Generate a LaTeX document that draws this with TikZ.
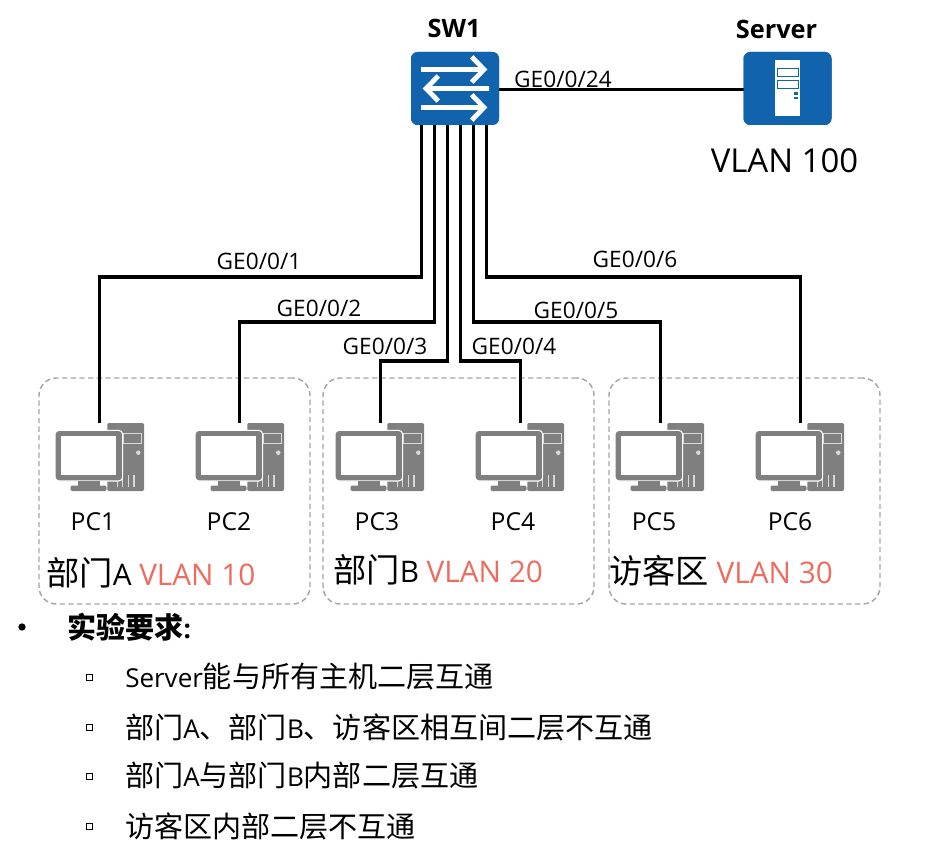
\documentclass[tikz,border=0pt]{standalone}
\usepackage{fontspec}
\setmainfont{Open Sans}
\newfontfamily\cjk[Scale=1.118]{Noto Sans CJK SC}
\usetikzlibrary{positioning}
\definecolor{hwblue}{HTML}{1263AE}
\definecolor{pcgray}{HTML}{7F7F7F}
\definecolor{vlanred}{HTML}{EE6B5F}
\definecolor{boxgray}{HTML}{A6A6A6}
\tikzset{
  link/.style={line width=2.4pt,black},
  devbox/.style={fill=hwblue,rounded corners=5pt,minimum width=66pt,minimum height=54.75pt,inner sep=0pt,outer sep=0pt},
  pcnode/.style={minimum width=66.75pt,minimum height=51pt,inner sep=0pt,outer sep=0pt},
  zone/.style={draw=boxgray,dash pattern=on 4pt off 2.5pt,line width=1.1pt,rounded corners=13pt,minimum width=203.25pt,minimum height=169.5pt,inner sep=0pt},
  portlabel/.style={font=\fontsize{17}{17}\selectfont,inner sep=0pt},
  pclabel/.style={font=\fontsize{18.5}{18.5}\selectfont,inner sep=0pt},
  namelabel/.style={font=\fontsize{19}{19}\selectfont\bfseries,inner sep=0pt},
  vlanlabel/.style={font=\fontsize{22.3}{22.3}\selectfont,inner sep=0pt,anchor=west},
  listitem/.style={font=\fontsize{19.5}{19.5}\selectfont,inner sep=0pt,anchor=west},
  listmark/.style={draw=black,line width=.6pt,minimum size=4.5pt,inner sep=0pt},
  pccase/.pic={
    \fill[pcgray,rounded corners=1pt] (7.8,-34) rectangle (44.5,34);
    \draw[white!85!black,line width=.8pt] (23.8,-23.3) rectangle (42,-13.3);
    \fill[white!85!black] (38.8,-4.3) circle (1.7pt);
    \draw[white!85!black,line width=.8pt] (17.8,18.3) -- (17.8,30) (23.2,18.3) -- (23.2,30) (28.8,18.3) -- (28.8,30) (34.5,18.3) -- (34.5,30);
    \fill[pcgray,draw=white,line width=.8pt,rounded corners=3pt] (-44.5,-26.7) rectangle (23.2,24);
    \fill[white] (-38.8,-21.3) rectangle (16.5,18.3);
    \fill[pcgray] (-22,24) rectangle (.5,28.5);
    \fill[pcgray,rounded corners=1pt] (-29,28.5) rectangle (7,34);
  },
  swarrows/.pic={
    \draw[white,line width=3.6pt] (-34,-19) -- (29,-19) (16.7,-31.7) -- (29,-19) -- (16.7,-6.3);
    \draw[white,line width=3.6pt] (34,0) -- (-29,0) (-16.7,-12.5) -- (-29,0) -- (-16.7,12.5);
    \draw[white,line width=3.6pt] (-34,19) -- (29,19) (16.7,6.3) -- (29,19) -- (16.7,31.7);
  },
  srvtower/.pic={
    \fill[white] (-12.8,-28) rectangle (12.8,28);
    \draw[hwblue,line width=1pt] (-10,-20) rectangle (10.7,-12.3);
    \draw[hwblue,line width=1pt] (-10,-7.7) rectangle (10.7,-.3);
    \fill[hwblue] (6,3.7) rectangle (10.7,6.3);
    \fill[hwblue] (6,8.3) rectangle (10.7,10.7);
  }
}
\begin{document}
\begin{tikzpicture}[x=.75pt,y=-.75pt]
  \useasboundingbox (0,0) rectangle (927,863);

  % zones
  \node[zone] (zonea) at (174.5,491) {};
  \node[zone] (zoneb) at (458.5,491) {};
  \node[zone] (zonec) at (744.5,491) {};

  % devices
  \node[devbox] (sw1) at (455,88.5) {};
  \node[devbox] (server) at (787.5,88.5) {};
  \node[namelabel] (swname) at (454,28) {SW1};
  \node[namelabel] (srvname) at (776.5,29) {Server};
  \node[font=\fontsize{24.7}{24.7}\selectfont,inner sep=0pt] (srvvlan) at (784.5,161) {VLAN 100};

  \node[pcnode] (pc1) at (99.5,457) {};
  \node[pcnode,right=38.25pt of pc1] (pc2) {};
  \node[pcnode,right=38.25pt of pc2] (pc3) {};
  \node[pcnode,right=38.25pt of pc3] (pc4) {};
  \node[pcnode,right=38.25pt of pc4] (pc5) {};
  \node[pcnode,right=38.25pt of pc5] (pc6) {};
  \pic at (pc1) {pccase};
  \pic at (pc2) {pccase};
  \pic at (pc3) {pccase};
  \pic at (pc4) {pccase};
  \pic at (pc5) {pccase};
  \pic at (pc6) {pccase};

  \node[pclabel] (pc1name) at (93,522) {PC1};
  \node[pclabel] (pc2name) at (229,522) {PC2};
  \node[pclabel] (pc3name) at (377,522) {PC3};
  \node[pclabel] (pc4name) at (513,522) {PC4};
  \node[pclabel] (pc5name) at (654,522) {PC5};
  \node[pclabel] (pc6name) at (790,522) {PC6};

  % links
  \draw[link] ([yshift=-.5pt]sw1.center) -- ([yshift=-.5pt]server.center);
  \draw[link] ([xshift=-25pt]sw1.south) -- ++(0,152) -| (pc1.north);
  \draw[link] ([xshift=-15.5pt]sw1.south) -- ++(0,197) -| (pc2.north);
  \draw[link] ([xshift=-5.75pt]sw1.south) -- ++(0,236) -| ([xshift=1pt]pc3.north);
  \draw[link] ([xshift=4pt]sw1.south) -- ++(0,236) -| ([xshift=1pt]pc4.north);
  \draw[link] ([xshift=13.75pt]sw1.south) -- ++(0,197) -| ([xshift=1pt]pc5.north);
  \draw[link] ([xshift=23.5pt]sw1.south) -- ++(0,152) -| ([xshift=1pt]pc6.north);
  \fill[hwblue,rounded corners=5pt] (sw1.south west) rectangle (sw1.north east);
  \pic at (sw1) {swarrows};
  \fill[hwblue,rounded corners=5pt] (server.south west) rectangle (server.north east);
  \pic at (server) {srvtower};

  % port names
  \node[portlabel] (ge24) at (563,79) {GE0/0/24};
  \node[portlabel] (ge1) at (259,261) {GE0/0/1};
  \node[portlabel] (ge2) at (319,308) {GE0/0/2};
  \node[portlabel] (ge3) at (385,346) {GE0/0/3};
  \node[portlabel] (ge4) at (514,346) {GE0/0/4};
  \node[portlabel] (ge5) at (576,310) {GE0/0/5};
  \node[portlabel] (ge6) at (635,259) {GE0/0/6};

  % zone names
  \node[vlanlabel] (zonealabel) at (46,573) {{\cjk 部门}A \textcolor{vlanred}{VLAN 10}};
  \node[vlanlabel] (zoneblabel) at (333,570) {{\cjk 部门}B \textcolor{vlanred}{VLAN 20}};
  \node[vlanlabel] (zoneclabel) at (609,571) {{\cjk 访客区} \textcolor{vlanred}{VLAN 30}};

  % requirements
  \node[circle,fill=black,minimum size=5.5pt,inner sep=0pt] (mark0) at (22,627) {};
  \node[listitem,font=\fontsize{19.5}{19.5}\selectfont\bfseries] (title) at (67,627) {{\cjk 实验要求}:};
  \node[listmark] (mark1) at (89,677) {};
  \node[listmark] (mark2) at (89,727) {};
  \node[listmark] (mark3) at (89,776) {};
  \node[listmark] (mark4) at (89,826) {};
  \node[listitem] (item1) at (125,677) {Server{\cjk 能与所有主机二层互通}};
  \node[listitem] (item2) at (125,727) {{\cjk 部门}A{\cjk 、部门}B{\cjk 、访客区相互间二层不互通}};
  \node[listitem] (item3) at (125,776) {{\cjk 部门}A{\cjk 与部门}B{\cjk 内部二层互通}};
  \node[listitem] (item4) at (125,826) {{\cjk 访客区内部二层不互通}};
\end{tikzpicture}
\end{document}
